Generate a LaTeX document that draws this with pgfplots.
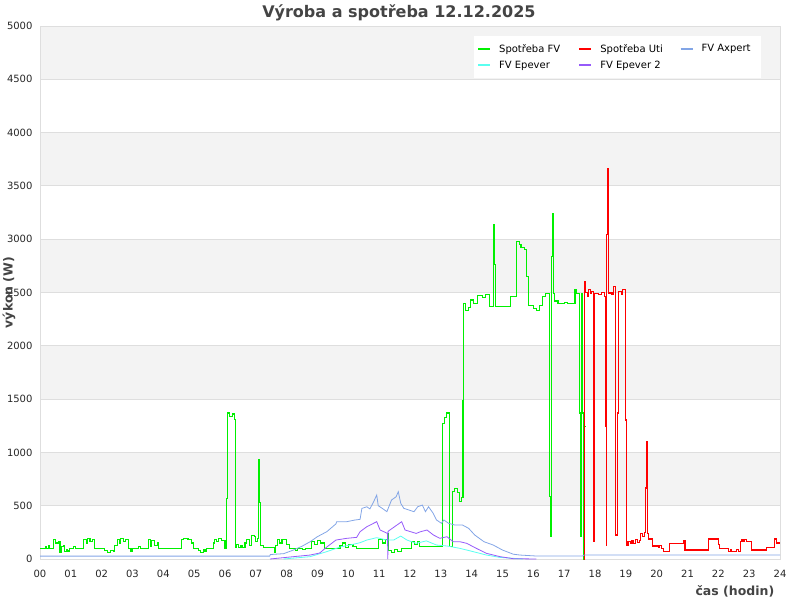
\documentclass[border=0pt]{standalone}
\usepackage{fontspec}
\setmainfont{DejaVu Sans}
\usepackage{pgfplots}
\pgfplotsset{compat=1.18}
\definecolor{cFV}{RGB}{0,240,0}
\definecolor{cUti}{RGB}{255,0,0}
\definecolor{cAx}{RGB}{130,165,230}
\definecolor{cEp}{RGB}{90,255,240}
\definecolor{cEp2}{RGB}{150,90,250}
\definecolor{band}{RGB}{243,243,243}
\definecolor{gridc}{RGB}{222,222,222}
\definecolor{txt}{RGB}{68,68,68}
\begin{document}
\begin{tikzpicture}
\begin{axis}[
  set layers=standard,
  scale only axis, width=740pt, height=533pt,
  at={(0,0)}, anchor=south west,
  xmin=0, xmax=24, ymin=0, ymax=5000,
  xtick={0,...,24},
  xticklabels={00,01,02,03,04,05,06,07,08,09,10,11,12,13,14,15,16,17,18,19,20,21,22,23,24},
  ytick={0,500,...,5000},
  /pgf/number format/assume math mode=true,
  /pgf/number format/1000 sep={},
  tick label style={font=\fontsize{10}{12}\selectfont, text=black!85},
  xticklabel style={yshift=-8pt},
  yticklabel style={xshift=-4pt},
  major tick length=0pt,
  ymajorgrids, grid style={gridc, line width=0.8pt},
  axis line style={gridc, line width=0.8pt},
  title={\bfseries Výroba a spotřeba 12.12.2025},
  title style={at={(axis description cs:0.485,1.013)}, anchor=center, font=\fontsize{16}{19}\selectfont, text=txt},
  xlabel={\bfseries čas (hodin)},
  xlabel style={at={(axis description cs:0.997,-0.060)}, anchor=east, font=\fontsize{12.5}{15}\selectfont, text=txt},
  ylabel={\bfseries výkon (W)},
  ylabel style={at={(axis description cs:-0.042,0.5)}, anchor=center, font=\fontsize{12.5}{15}\selectfont, text=txt},
  legend columns=3,
  legend cell align=left,
  legend style={at={(axis description cs:0.974,0.981)}, anchor=north east, draw=none, fill=white,
    font=\fontsize{10}{12}\selectfont, inner xsep=3pt, inner ysep=6pt, row sep=3pt},
  legend image code/.code={\draw[#1, line width=2.4pt] (0pt,0pt) -- (12pt,0pt); \path[draw=none,fill=none] (0pt,0pt) rectangle (19pt,0pt);},
]
\begin{pgfonlayer}{axis background}
\fill[band] (axis cs:0,500) rectangle (axis cs:24,1000);
\fill[band] (axis cs:0,1500) rectangle (axis cs:24,2000);
\fill[band] (axis cs:0,2500) rectangle (axis cs:24,3000);
\fill[band] (axis cs:0,3500) rectangle (axis cs:24,4000);
\fill[band] (axis cs:0,4500) rectangle (axis cs:24,5000);
\end{pgfonlayer}

% Spotreba FV
\addplot[cFV, line width=1.1pt, const plot] coordinates {
(0,100)(0.18,120)(0.2,100)(0.27,125)(0.3,100)(0.45,185)(0.49,150)(0.6,160)(0.65,65)(0.69,120)
(0.75,130)(0.8,70)(0.85,85)(0.9,75)(0.97,100)(1.1,115)(1.15,100)(1.4,185)(1.5,150)(1.55,190)
(1.62,160)(1.7,185)(1.78,100)(2.1,80)(2.2,65)(2.3,80)(2.38,70)(2.43,130)(2.5,185)(2.58,150)
(2.62,190)(2.7,160)(2.78,185)(2.86,100)(2.95,70)(3.0,100)(3.2,120)(3.25,100)(3.51,180)(3.58,120)
(3.63,170)(3.72,130)(3.8,150)(3.84,100)(4.6,180)(4.65,190)(4.8,185)(4.9,150)(4.97,100)(5.13,80)
(5.2,65)(5.3,90)(5.35,70)(5.4,100)(5.62,150)(5.67,185)(5.72,160)(5.8,190)(5.9,170)(6.0,100)
(6.06,570)(6.08,1370)(6.15,1340)(6.25,1360)(6.3,1310)(6.33,110)(6.38,140)(6.45,110)(6.5,130)(6.55,110)
(6.65,150)(6.7,180)(6.8,130)(6.87,220)(6.95,210)(7.0,160)(7.05,190)(7.1,930)(7.12,530)(7.14,130)
(7.25,110)(7.6,60)(7.63,130)(7.7,180)(7.78,150)(7.85,185)(8.0,140)(8.1,100)(8.3,80)(8.35,100)
(8.5,90)(8.6,100)(8.8,165)(8.9,140)(9.0,170)(9.1,150)(9.24,100)(9.73,130)(9.8,150)(9.9,110)
(10.0,140)(10.15,120)(10.27,100)(10.97,180)(11.1,150)(11.2,180)(11.26,240)(11.3,80)(11.4,60)(11.5,90)
(11.6,70)(11.73,100)(12.05,160)(12.15,140)(12.25,165)(12.32,115)(13.05,1275)(13.12,1330)(13.18,1370)(13.27,115)
(13.37,630)(13.45,660)(13.55,620)(13.6,540)(13.68,580)(13.72,1490)(13.74,2400)(13.8,2330)(13.9,2360)(13.96,2430)
(14.05,2400)(14.2,2476)(14.35,2450)(14.45,2480)(14.57,2367)(14.72,3142)(14.75,2760)(14.78,2367)(15.27,2460)(15.46,2977)
(15.55,2950)(15.6,2920)(15.7,2900)(15.78,2648)(15.83,2380)(16.0,2350)(16.1,2330)(16.2,2380)(16.3,2460)(16.4,2490)
(16.52,585)(16.55,210)(16.58,2840)(16.61,3243)(16.64,2490)(16.7,2420)(16.8,2400)(17.0,2410)(17.1,2400)(17.35,2525)
(17.4,2490)(17.51,1370)(17.53,210)(17.55,2490)(17.6,1370)(17.63,0)(17.66,1240)(17.69,1240)
};
\addlegendentry{\makebox[77pt][l]{Spotřeba FV}}

% Spotreba Uti
\addplot[cUti, line width=1.1pt, const plot] coordinates {
(17.64,0)(17.66,2600)(17.7,2500)(17.75,2460)(17.8,2530)(17.85,2490)(17.9,2510)(17.96,163)(17.99,2490)(18.1,2480)
(18.2,2500)(18.3,2460)(18.33,1240)(18.36,131)(18.38,3040)(18.42,3665)(18.45,2495)(18.55,2480)(18.6,2555)(18.67,225)
(18.74,1370)(18.76,2510)(18.85,2480)(18.9,2530)(19.0,1304)(19.03,131)(19.07,160)(19.15,150)(19.2,175)(19.25,145)
(19.3,185)(19.37,155)(19.43,175)(19.49,240)(19.55,215)(19.6,245)(19.65,666)(19.68,1100)(19.71,240)(19.73,188)
(19.87,122)(20.05,110)(20.1,130)(20.15,100)(20.22,69)(20.43,147)(20.88,175)(20.92,84)(21.68,188)(22.0,140)
(22.03,100)(22.33,69)(22.4,85)(22.44,69)(22.6,90)(22.65,69)(22.72,160)(22.75,185)(22.8,160)(22.85,185)
(22.9,160)(23.08,84)(23.56,105)(23.83,188)(23.9,150)(24,150)
};
\addlegendentry{\makebox[77pt][l]{Spotřeba Uti}}

% FV Axpert
\addplot[cAx, line width=0.8pt] coordinates {
(0,27)(7.45,27)(7.47,42)(7.9,50)(8.22,84)(8.5,120)(8.76,162)(9.0,210)(9.3,256)(9.6,330)
(9.62,350)(9.95,350)(10.2,365)(10.38,372)(10.44,475)(10.6,490)(10.7,470)(10.82,537)(10.92,600)(10.97,500)
(11.1,475)(11.25,444)(11.4,553)(11.55,584)(11.62,631)(11.7,522)(11.8,475)(12.13,444)(12.25,490)(12.4,506)
(12.5,444)(12.6,490)(12.75,430)(12.86,366)(13.02,335)(13.1,366)(13.25,335)(13.45,319)(13.7,319)(13.9,288)
(14.1,225)(14.4,162)(14.7,131)(15.0,84)(15.35,45)(15.57,37)(16.1,28)(17.6,28)(17.65,38)(24,38)
};
\addlegendentry{\makebox[54pt][l]{FV Axpert}}

% FV Epever
\addplot[cEp, line width=0.8pt] coordinates {
(7.9,0)(8.76,22)(9.3,69)(9.73,112)(10.05,131)(10.38,153)(10.6,178)(10.92,200)(11.25,178)(11.47,178)
(11.7,215)(11.9,178)(12.2,147)(12.53,170)(12.86,131)(13.2,122)(13.62,100)(14.05,69)(14.48,37)(14.92,15)(15.67,0)
};
\addlegendentry{FV Epever}

% FV Epever 2
\addplot[cEp2, line width=0.8pt] coordinates {
(7.46,0)(8.22,22)(8.76,37)(9.07,56)(9.3,112)(9.6,178)(9.95,194)(10.27,203)(10.38,256)(10.6,303)
(10.92,350)(11.03,272)(11.27,240)(11.28,0)(11.29,260)(11.5,303)(11.73,350)(11.84,272)(12.2,240)(12.33,255)
(12.55,272)(12.76,225)(12.97,194)(13.2,209)(13.4,162)(13.62,162)(13.84,147)(14.15,100)(14.48,53)(14.92,22)
(15.35,3)(16.1,0)
};
\addlegendentry{FV Epever 2}
\end{axis}
\pgfresetboundingbox
\useasboundingbox (-40pt,-41pt) rectangle (760pt,559pt);
\end{tikzpicture}
\end{document}
